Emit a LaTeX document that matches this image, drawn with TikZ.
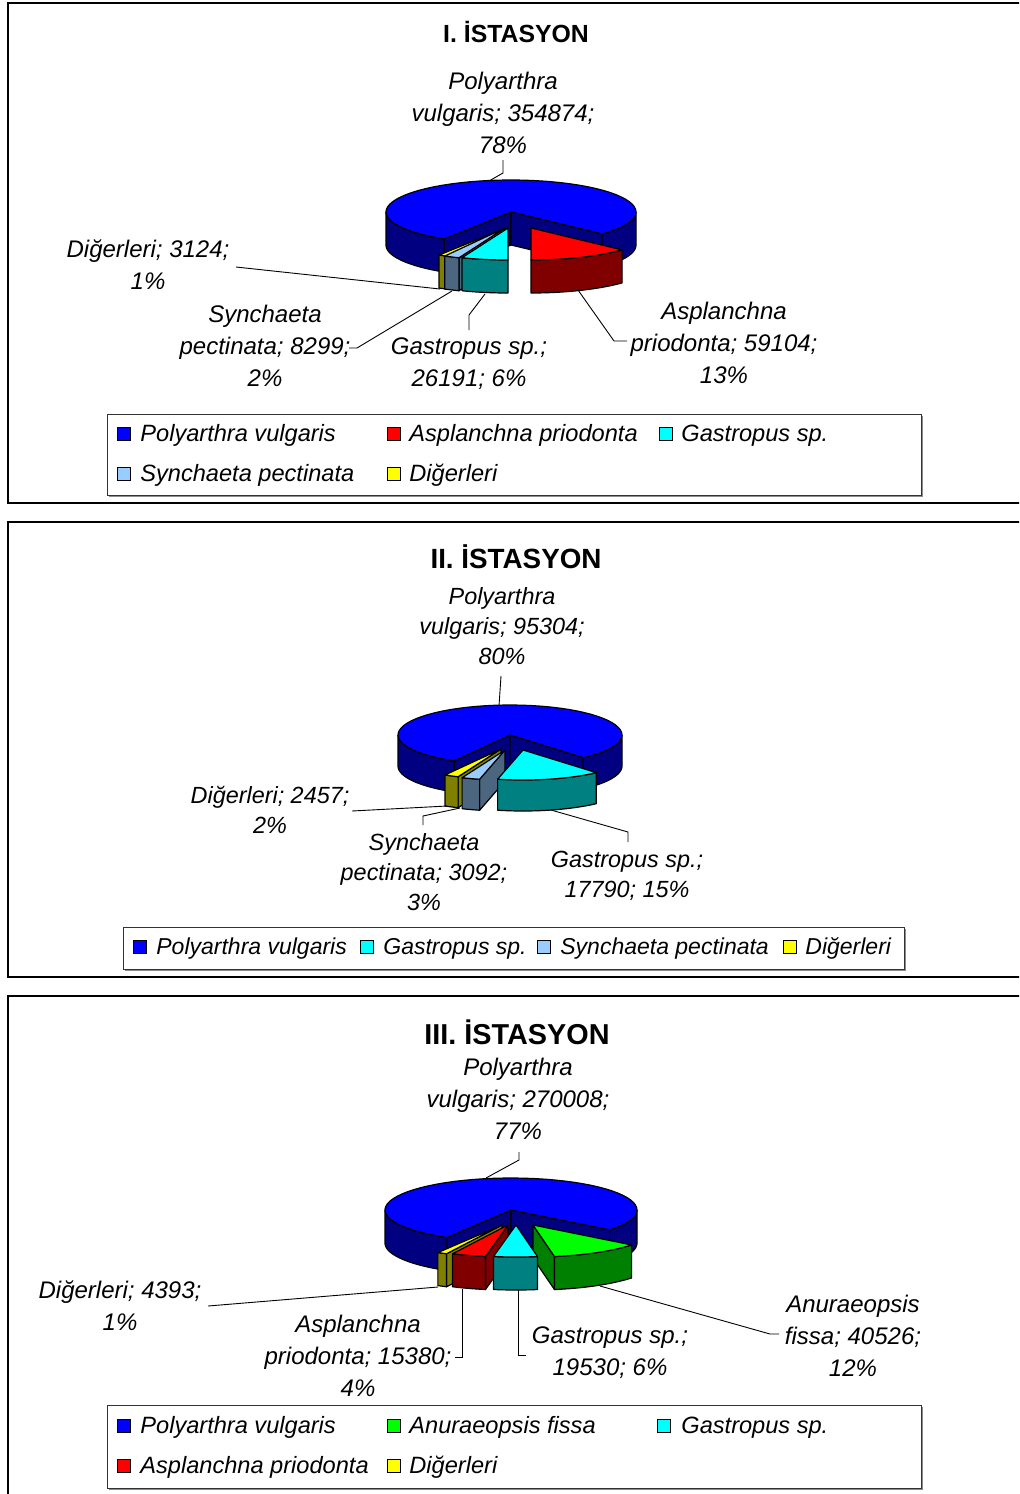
\documentclass[tikz,border=0pt]{standalone}
\usepackage{fontspec}
\setmainfont{Liberation Sans}
\definecolor{pblue}{RGB}{0,0,255}
\definecolor{pbluesd}{RGB}{0,0,128}
\definecolor{pred}{RGB}{255,0,0}
\definecolor{predsd}{RGB}{128,0,0}
\definecolor{pcyan}{RGB}{0,255,255}
\definecolor{pcyansd}{RGB}{0,128,128}
\definecolor{plblue}{RGB}{153,204,255}
\definecolor{plbluesd}{RGB}{77,102,128}
\definecolor{pyel}{RGB}{255,255,0}
\definecolor{pyelsd}{RGB}{128,128,0}
\definecolor{pgreen}{RGB}{0,255,0}
\definecolor{pgreensd}{RGB}{0,128,0}
% slice parts, all in pixel units around (\cx,\cy)
\newcommand{\shiftto}[2]{\pgfmathsetmacro\cx{\pcx+#1}\pgfmathsetmacro\cy{\pcy+#2}}
\newcommand{\slicewall}[3]{\filldraw[face,fill=#3] plot[domain=#1:#2,samples=30] ({\cx+\rx*cos(\x)},{\cy+\ry*sin(\x)}) -- plot[domain=#2:#1,samples=30] ({\cx+\rx*cos(\x)},{\cy+\dep+\ry*sin(\x)}) -- cycle;}
\newcommand{\slicecut}[2]{\filldraw[face,fill=#2] (\cx,\cy) -- ({\cx+\rx*cos(#1)},{\cy+\ry*sin(#1)}) -- ++(0,\dep) -- ({\cx},{\cy+\dep}) -- cycle;}
\newcommand{\slicetop}[3]{\filldraw[face,fill=#3] (\cx,\cy) -- plot[domain=#1:#2,samples=60] ({\cx+\rx*cos(\x)},{\cy+\ry*sin(\x)}) -- cycle;}
\begin{document}
\begin{tikzpicture}[x=0.5pt,y=-0.5pt,
    face/.style={draw=black,line width=0.6pt,line join=round},
    frame/.style={draw=black,line width=1pt},
    leader/.style={draw=black,line width=0.45pt},
    lbl/.style={font=\itshape\fontsize{12}{16}\selectfont,align=center,inner sep=0pt},
    lbltwo/.style={font=\itshape\fontsize{11.7}{15}\selectfont,align=center,inner sep=0pt},
    ttl/.style={font=\bfseries\fontsize{#1}{#1}\selectfont,inner sep=0pt},
    keybox/.style={draw=black!80,line width=0.5pt,fill=white},
    keyshadow/.style={fill=black!45,draw=none},
    key/.style={draw=black,line width=0.5pt,minimum size=6.5pt,inner sep=0pt},
    keytxt/.style={font=\itshape\fontsize{11.8}{14}\selectfont,anchor=base west,inner sep=0pt}]
\useasboundingbox (0,0) rectangle (1019,1494);
\clip (0,0) rectangle (1019,1494);
\fill[white] (0,0) rectangle (1019,1494);
% frames
\draw[frame] (8,3) rectangle (1040,503);
\draw[frame] (8,522) rectangle (1040,977);
\draw[frame] (8,996) rectangle (1040,1520);

% ---------------- I. ISTASYON ----------------
\node[ttl=12.4] (t1) at (516,32) {I. İSTASYON};
\def\pcx{511}\def\pcy{212}\def\rx{125}\def\ry{32}\def\dep{33}
\shiftto{0}{0}
\slicecut{122.4}{pbluesd}
\slicecut{403.2}{pbluesd}
\slicewall{122.4}{180}{pbluesd}
\slicewall{360}{403.2}{pbluesd}
\slicetop{122.4}{403.2}{pblue}
\shiftto{-5}{16}
\slicecut{118.8}{pyelsd}
\slicewall{118.8}{122.4}{pyelsd}
\slicetop{118.8}{122.4}{pyel}
\shiftto{-6}{16}
\slicecut{111.6}{plbluesd}
\slicewall{111.6}{118.8}{plbluesd}
\slicetop{111.6}{118.8}{plblue}
\shiftto{-3}{16}
\slicewall{90}{111.6}{pcyansd}
\slicetop{90}{111.6}{pcyan}
\shiftto{20}{16}
\slicewall{43.2}{90}{predsd}
\slicetop{43.2}{90}{pred}

\node[lbl] (p1polyL) at (503,113) {Polyarthra\\vulgaris; 354874;\\78\%};
\node[lbl] (p1digL) at (148,265) {Diğerleri; 3124;\\1\%};
\node[lbl] (p1synL) at (265,346) {Synchaeta\\pectinata; 8299;\\2\%};
\node[lbl] (p1gasL) at (469,364) {Gastropus sp.;\\26191; 6\%};
\node[lbl] (p1aspL) at (724,343) {Asplanchna\\priodonta; 59104;\\13\%};
\coordinate (p1polyA) at (503,160); \coordinate (p1polyB) at (503,173); \coordinate (p1poly) at (489,181);
\coordinate (p1digA) at (236,267); \coordinate (p1dig) at (440,289);
\coordinate (p1synA) at (349,348); \coordinate (p1synB) at (357,348); \coordinate (p1syn) at (452,291);
\coordinate (p1gasA) at (469,330); \coordinate (p1gasB) at (469,315); \coordinate (p1gas) at (485,294);
\coordinate (p1aspA) at (627,341); \coordinate (p1aspB) at (614,341); \coordinate (p1asp) at (578,290);
\draw[leader] (p1polyA) -- (p1polyB) -- (p1poly);
\draw[leader] (p1digA) -- (p1dig);
\draw[leader] (p1synA) -- (p1synB) -- (p1syn);
\draw[leader] (p1gasA) -- (p1gasB) -- (p1gas);
\draw[leader] (p1aspA) -- (p1aspB) -- (p1asp);

% legend I
\fill[keyshadow] (109,416) rectangle (923,497);
\draw[keybox] (107,414) rectangle (921,495);
\node[key,fill=pblue] (k1a) at (124,434) {};
\node[keytxt] (k1at) at (140,441) {Polyarthra vulgaris};
\node[key,fill=pred] (k1b) at (394,434) {};
\node[keytxt] (k1bt) at (409,441) {Asplanchna priodonta};
\node[key,fill=pcyan] (k1c) at (666,434) {};
\node[keytxt] (k1ct) at (681,441) {Gastropus sp.};
\node[key,fill=plblue] (k1d) at (124,474) {};
\node[keytxt] (k1dt) at (140,481) {Synchaeta pectinata};
\node[key,fill=pyel] (k1e) at (394,474) {};
\node[keytxt] (k1et) at (409,481) {Diğerleri};

% ---------------- II. ISTASYON ----------------
\node[ttl=13.9] (t2) at (516,557) {II. İSTASYON};
\def\pcx{510}\def\pcy{735}\def\rx{112}\def\ry{30}\def\dep{31}
\shiftto{0}{0}
\slicecut{120}{pbluesd}
\slicecut{409.1}{pbluesd}
\slicewall{120}{180}{pbluesd}
\slicewall{360}{409.1}{pbluesd}
\slicetop{120}{409.1}{pblue}
\shiftto{-9}{14}
\slicecut{112.5}{pyelsd}
\slicewall{112.5}{120}{pyelsd}
\slicetop{112.5}{120}{pyel}
\shiftto{-5}{15}
\slicecut{103.1}{plbluesd}
\slicewall{103.1}{112.5}{plbluesd}
\slicetop{103.1}{112.5}{plblue}
\shiftto{13}{15}
\slicewall{49.1}{103.1}{pcyansd}
\slicetop{49.1}{103.1}{pcyan}

\node[lbltwo] (p2polyL) at (502,626) {Polyarthra\\vulgaris; 95304;\\80\%};
\node[lbltwo] (p2digL) at (270,810) {Diğerleri; 2457;\\2\%};
\node[lbltwo] (p2synL) at (424,872) {Synchaeta\\pectinata; 3092;\\3\%};
\node[lbltwo] (p2gasL) at (627,876) {Gastropus sp.;\\17790; 15\%};
\coordinate (p2polyA) at (501,676); \coordinate (p2poly) at (499,706);
\coordinate (p2digA) at (352,811); \coordinate (p2dig) at (447,806);
\coordinate (p2synA) at (423,825); \coordinate (p2synB) at (423,816); \coordinate (p2syn) at (460,808);
\coordinate (p2gasA) at (628,842); \coordinate (p2gasB) at (628,832); \coordinate (p2gas) at (551,810);
\draw[leader] (p2polyA) -- (p2poly);
\draw[leader] (p2digA) -- (p2dig);
\draw[leader] (p2synA) -- (p2synB) -- (p2syn);
\draw[leader] (p2gasA) -- (p2gasB) -- (p2gas);

% legend II
\fill[keyshadow] (125,929) rectangle (906,971);
\draw[keybox] (123,927) rectangle (904,969);
\node[key,fill=pblue] (k2a) at (140,947) {};
\node[keytxt,font=\itshape\fontsize{11.5}{14}\selectfont] (k2at) at (156,954) {Polyarthra vulgaris};
\node[key,fill=pcyan] (k2b) at (367,947) {};
\node[keytxt,font=\itshape\fontsize{11.5}{14}\selectfont] (k2bt) at (383,954) {Gastropus sp.};
\node[key,fill=plblue] (k2c) at (544,947) {};
\node[keytxt,font=\itshape\fontsize{11.5}{14}\selectfont] (k2ct) at (560,954) {Synchaeta pectinata};
\node[key,fill=pyel] (k2d) at (790,947) {};
\node[keytxt,font=\itshape\fontsize{11.5}{14}\selectfont] (k2dt) at (805,954) {Diğerleri};

% ---------------- III. ISTASYON ----------------
\node[ttl=14.4] (t3) at (517,1032) {III. İSTASYON};
\def\pcx{511}\def\pcy{1210}\def\rx{126}\def\ry{32}\def\dep{33}
\shiftto{0}{0}
\slicecut{120.6}{pbluesd}
\slicecut{398.5}{pbluesd}
\slicewall{120.6}{180}{pbluesd}
\slicewall{360}{398.5}{pbluesd}
\slicetop{120.6}{398.5}{pblue}
\shiftto{-9}{15}
\slicecut{116.1}{pyelsd}
\slicewall{116.1}{120.6}{pyelsd}
\slicetop{116.1}{120.6}{pyel}
\shiftto{-3}{15}
\slicecut{100.3}{predsd}
\slicewall{100.3}{116.1}{predsd}
\slicetop{100.3}{116.1}{pred}
\shiftto{22}{15}
\slicecut{80.2}{pgreensd}
\slicewall{38.5}{80.2}{pgreensd}
\slicetop{38.5}{80.2}{pgreen}
\shiftto{5}{15}
\slicewall{80.2}{100.3}{pcyansd}
\slicetop{80.2}{100.3}{pcyan}

\node[lbl] (p3polyL) at (518,1099) {Polyarthra\\vulgaris; 270008;\\77\%};
\node[lbl] (p3digL) at (120,1306) {Diğerleri; 4393;\\1\%};
\node[lbl] (p3aspL) at (358,1356) {Asplanchna\\priodonta; 15380;\\4\%};
\node[lbl] (p3gasL) at (610,1353) {Gastropus sp.;\\19530; 6\%};
\node[lbl] (p3anuL) at (853,1336) {Anuraeopsis\\fissa; 40526;\\12\%};
\coordinate (p3polyA) at (519,1152); \coordinate (p3polyB) at (519,1160); \coordinate (p3poly) at (486,1178);
\coordinate (p3digA) at (208,1306); \coordinate (p3dig) at (438,1287);
\coordinate (p3aspA) at (455,1357); \coordinate (p3aspB) at (462,1357); \coordinate (p3asp) at (462,1289);
\coordinate (p3gasA) at (526,1355); \coordinate (p3gasB) at (518,1355); \coordinate (p3gas) at (518,1290);
\coordinate (p3anuA) at (779,1334); \coordinate (p3anuB) at (770,1334); \coordinate (p3anu) at (600,1286);
\draw[leader] (p3polyA) -- (p3polyB) -- (p3poly);
\draw[leader] (p3digA) -- (p3dig);
\draw[leader] (p3aspA) -- (p3aspB) -- (p3asp);
\draw[leader] (p3gasA) -- (p3gasB) -- (p3gas);
\draw[leader] (p3anuA) -- (p3anuB) -- (p3anu);

% legend III
\fill[keyshadow] (109,1407) rectangle (923,1490);
\draw[keybox] (107,1405) rectangle (921,1488);
\node[key,fill=pblue] (k3a) at (124,1426) {};
\node[keytxt] (k3at) at (140,1433) {Polyarthra vulgaris};
\node[key,fill=pgreen] (k3b) at (394,1426) {};
\node[keytxt] (k3bt) at (409,1433) {Anuraeopsis fissa};
\node[key,fill=pcyan] (k3c) at (664,1426) {};
\node[keytxt] (k3ct) at (681,1433) {Gastropus sp.};
\node[key,fill=pred] (k3d) at (124,1466) {};
\node[keytxt] (k3dt) at (140,1473) {Asplanchna priodonta};
\node[key,fill=pyel] (k3e) at (394,1466) {};
\node[keytxt] (k3et) at (409,1473) {Diğerleri};
\end{tikzpicture}
\end{document}
